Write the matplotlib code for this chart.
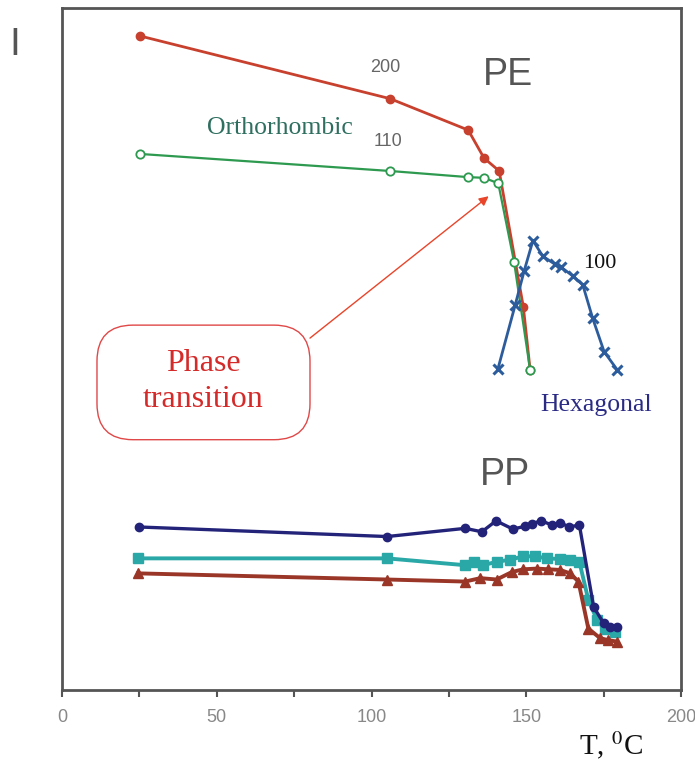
import matplotlib

matplotlib.use("Agg")
import matplotlib.pyplot as plt
from matplotlib.patches import FancyBboxPatch

plt.rcParams["mathtext.fontset"] = "stix"

# ── PE: orthorhombic (200), (110) and hexagonal (100) reflections ───────────
pe200_t = [25.2, 106.0, 131.2, 136.3, 141.2, 149.0, 151.2]
pe200_i = [95.9, 86.7, 82.1, 78.0, 76.1, 56.2, 46.9]

pe110_t = [25.2, 106.0, 131.2, 136.3, 140.9, 146.0, 151.2]
pe110_i = [78.6, 76.1, 75.2, 75.1, 74.3, 62.8, 46.9]

hex100_t = [140.8, 146.4, 149.3, 152.1, 155.3, 159.3, 161.2, 165.0, 168.2,
            171.4, 175.1, 179.4]
hex100_i = [47.1, 56.5, 61.5, 65.9, 63.6, 62.4, 62.0, 60.7, 59.4,
            54.5, 49.6, 46.9]

# ── PP: three reflections ──────────────────────────────────────────────────
pp_a_t = [25.0, 105.0, 130.2, 135.6, 140.2, 145.6, 149.6, 151.8, 154.8,
          158.2, 160.9, 163.9, 167.1, 171.7, 174.9, 177.0, 179.4]
pp_a_i = [23.9, 22.5, 23.7, 23.2, 24.8, 23.6, 24.0, 24.4, 24.8,
          24.2, 24.5, 23.9, 24.2, 12.2, 9.8, 9.3, 9.2]

pp_b_t = [24.6, 105.0, 130.2, 133.0, 136.0, 140.4, 144.7, 149.0, 152.8,
          156.6, 160.9, 164.1, 167.1, 170.0, 172.8, 175.4, 178.7]
pp_b_i = [19.3, 19.3, 18.3, 18.7, 18.3, 18.8, 19.1, 19.6, 19.6,
          19.3, 19.2, 19.0, 18.8, 13.2, 10.3, 9.0, 8.5]

pp_c_t = [24.6, 105.0, 130.2, 135.1, 140.4, 145.3, 149.0, 153.4, 157.1,
          160.9, 164.1, 166.8, 170.0, 173.8, 176.5, 179.2]
pp_c_i = [17.1, 16.2, 15.9, 16.4, 16.2, 17.3, 17.7, 17.8, 17.7,
          17.6, 17.1, 15.9, 9.0, 7.6, 7.3, 7.1]

x_ticks = [0, 50, 100, 150, 200]

SERIF = ["Liberation Serif", "DejaVu Serif"]
SANS = ["Liberation Sans", "DejaVu Sans"]

fig = plt.figure(figsize=(6.95, 7.62), dpi=100)
ax = fig.add_axes([0.0892, 0.0945, 0.891, 0.895])
ax.set_xlim(0, 200)
ax.set_ylim(0, 100)

# PE curves
ax.plot(pe200_t, pe200_i, color="#c8402e", lw=2.0, marker="o", ms=6,
        mfc="#c8402e", mec="#c8402e", zorder=3)
ax.plot(pe110_t, pe110_i, color="#2e9a50", lw=1.6, marker="o", ms=6,
        mfc="white", mec="#2e9a50", mew=1.3, zorder=4)
ax.plot(hex100_t, hex100_i, color="#2d5c9c", lw=2.0, marker="x", ms=7.5,
        mew=2.2, zorder=4)

# PP curves
ax.plot(pp_a_t, pp_a_i, color="#23237a", lw=2.4, marker="o", ms=6, zorder=3)
ax.plot(pp_b_t, pp_b_i, color="#2aa8a8", lw=2.8, marker="s", ms=6.5, zorder=2)
ax.plot(pp_c_t, pp_c_i, color="#9a3628", lw=2.8, marker="^", ms=6.5, zorder=2)

# labels inside the plot
ax.text(104.4, 91.3, "200", fontsize=13, color="#666666", family=SANS,
        ha="center", va="center")
ax.text(105.3, 80.4, "110", fontsize=13, color="#666666", family=SANS,
        ha="center", va="center")
ax.text(144.1, 90.2, "PE", fontsize=27, color="#555555", family=SANS,
        ha="center", va="center")
ax.text(143.1, 31.5, "PP", fontsize=27, color="#555555", family=SANS,
        ha="center", va="center")
ax.text(70.4, 82.4, "Orthorhombic", fontsize=18.5, color="#2f6f5f",
        family=SERIF, ha="center", va="center")
ax.text(173.8, 62.5, "100", fontsize=16, color="#111111", family=SERIF,
        ha="center", va="center")
ax.text(172.5, 41.8, "Hexagonal", fontsize=18.5, color="#2b2b85",
        family=SERIF, ha="center", va="center")

# rounded call-out box with arrow
x_per_px = 200 / 619.0
y_per_px = 100 / 682.0
box = FancyBboxPatch((11.3, 36.7), 68.8, 16.8,
                     boxstyle=f"round,pad=0,rounding_size={36 * x_per_px:.2f}",
                     mutation_aspect=y_per_px / x_per_px,
                     fc="white", ec="#e04848", lw=1.0, zorder=5)
ax.add_patch(box)
ax.text(45.6, 45.2, "Phase\ntransition", fontsize=23, color="#d42a2a",
        family=SERIF, ha="center", va="center", linespacing=1.3, zorder=6)
ax.annotate("", xy=(137.8, 72.4), xytext=(80.1, 51.6),
            arrowprops=dict(arrowstyle="-|>", color="#e8452a", lw=1.0,
                            mutation_scale=14, shrinkA=0, shrinkB=0),
            zorder=6)

# axes styling
for side in ["left", "right", "top", "bottom"]:
    ax.spines[side].set_color("#555555")
    ax.spines[side].set_linewidth(2.0)
ax.set_yticks([])
ax.set_xticks(x_ticks)
ax.set_xticks([25, 75, 125, 175], minor=True)
ax.tick_params(axis="x", which="both", direction="out", length=5, width=1.5,
               color="#555555", labelsize=13, labelcolor="#888888", pad=9)
for lbl in ax.get_xticklabels():
    lbl.set_family(SANS)

fig.text(15 / 695, 1 - 45 / 762, "I", fontsize=28, color="#555555",
         family=SANS, ha="center", va="center")
fig.text(611 / 695, 1 - 745 / 762, "T, $^{0}$C", fontsize=21, color="#111111",
         family=SERIF, ha="center", va="center")

fig.savefig("out.png", dpi=100)
